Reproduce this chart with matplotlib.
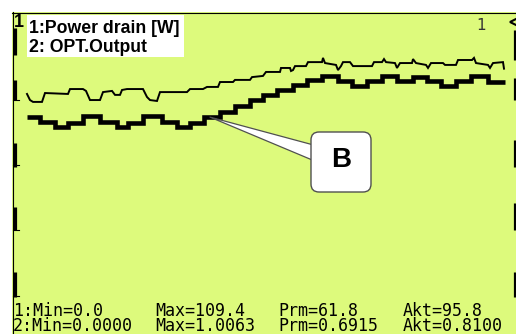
import matplotlib
matplotlib.use("Agg")
import matplotlib.pyplot as plt
from matplotlib.patches import Rectangle, FancyBboxPatch
from matplotlib.lines import Line2D

# ---- recorded traces -------------------------------------------------------
# Channel 1: power drain [W] (time in s)
power_t = [3.75, 4.5, 5.25, 7.5, 8.25, 14.0, 14.5, 17.75, 18.5, 19.5, 22.0, 22.75,
           25.0, 25.75, 27.0, 27.5, 28.75, 32.75, 33.75, 34.5, 36.25, 37.0, 43.75,
           44.5, 47.75, 48.75, 51.5, 52.0, 55.25, 55.75, 59.5, 60.0, 62.75, 63.5,
           67.0, 67.25, 69.5, 69.75, 70.25, 70.75, 73.5, 74.0, 77.5, 77.75, 78.25,
           81.0, 81.5, 82.25, 82.75, 84.5, 85.25, 90.0, 90.5, 92.5, 93.0, 93.5,
           95.75, 96.25, 97.0, 100.0, 100.25, 101.0, 103.5, 104.0, 104.75, 107.75,
           108.25, 111.0, 111.5, 115.0, 115.5, 116.0, 119.0, 119.5, 120.25, 122.75,
           123.0]
power_w = [85.0, 82.4, 81.6, 81.6, 85.4, 85.0, 87.1, 87.1, 86.3, 82.4, 82.4, 85.8,
           86.3, 84.6, 84.6, 86.7, 87.1, 87.1, 83.7, 82.4, 82.0, 85.8, 85.8,
           87.1, 87.1, 88.0, 88.0, 90.1, 90.1, 91.0, 91.0, 92.2, 92.7, 94.4,
           94.4, 96.1, 96.1, 94.8, 95.2, 96.9, 96.9, 98.6, 98.6, 100.4, 98.2,
           97.4, 95.2, 96.9, 98.6, 98.6, 96.9, 96.9, 98.6, 98.6, 99.9, 98.6,
           98.2, 96.1, 98.2, 98.2, 99.9, 98.2, 97.4, 96.1, 98.2, 98.2,
           97.4, 97.4, 99.5, 99.5, 100.4, 98.2, 97.4, 96.1, 98.2, 98.6,
           95.8]

# Channel 2: OPT output (step-held), value valid from each time onwards
opt_t = [3.75, 7.0, 10.75, 14.0, 17.75, 22.0, 26.25, 29.0, 32.75, 37.5, 41.25,
         44.5, 48.0, 52.0, 55.75, 59.5, 62.75, 66.25, 70.25, 73.75, 77.5, 81.5,
         85.0, 88.75, 92.5, 96.25, 100.25, 103.75, 107.25, 111.0, 114.75, 119.0,
         123.25]
opt_v = [0.676, 0.657, 0.638, 0.653, 0.680, 0.657, 0.638, 0.653, 0.680, 0.657,
         0.638, 0.653, 0.676, 0.696, 0.719, 0.742, 0.761, 0.780, 0.799, 0.819,
         0.834, 0.815, 0.796, 0.815, 0.834, 0.815, 0.830, 0.815, 0.796, 0.815,
         0.834, 0.810, 0.810]

# statistics shown in the status lines
stat_names = ["Min", "Max", "Prm", "Akt"]
power_stats = [0.0, 109.4, 61.8, power_w[-1]]
opt_stats = [0.0, 1.0063, 0.6915, opt_v[-1]]

legend_labels = ["1:Power drain [W]", "2: OPT.Output"]
marker_label = "B"
marker_time = 49.5

# ---- figure ----------------------------------------------------------------
W, H, DPI = 516, 334, 100
GREEN = "#DDFA7C"
fig = plt.figure(figsize=(W / DPI, H / DPI), dpi=DPI, facecolor="white")


def fx(x):
    return x / W


def fy(y):
    return (H - y) / H


# display panel (drawn underneath the data axes)
fig.patches.append(Rectangle((fx(12), 0), fx(W) - fx(12), fy(12), transform=fig.transFigure,
                             facecolor=GREEN, edgecolor="none", zorder=-2))
fig.add_artist(Line2D([fx(12), 1], [fy(12.5)] * 2, color="black", lw=0.8))
fig.add_artist(Line2D([fx(12.5)] * 2, [0, fy(12)], color="black", lw=0.8))

# scale bars on both sides
for y0, y1 in [(28, 55), (80, 100), (143, 167), (207, 230), (272, 297)]:
    fig.add_artist(Line2D([fx(14.5)] * 2, [fy(y0), fy(y1)], color="black", lw=2.3,
                          solid_capstyle="butt"))
for yt in [100, 165, 230, 296]:
    fig.add_artist(Line2D([fx(13), fx(19)], [fy(yt)] * 2, color="black", lw=0.8))
for y0, y1 in [(30, 60), (78, 100), (140, 167), (203, 230), (272, 297)]:
    fig.add_artist(Line2D([fx(514.5)] * 2, [fy(y0), fy(y1)], color="black", lw=2.3,
                          solid_capstyle="butt"))
fig.add_artist(Line2D([fx(514)], [fy(22)], marker="<", ms=6, mfc=GREEN, mec="black",
                      mew=1.5, lw=0))
fig.text(fx(14), fy(27), "1", fontsize=13, fontweight="bold", color="black",
         family="Liberation Sans", va="baseline", ha="left")
fig.text(fx(476), fy(30), "1", fontsize=11, color="#333333",
         family="DejaVu Sans", va="baseline", ha="left")

# data axes
ax_pw = fig.add_axes([fx(12), fy(293), fx(W) - fx(12), fy(12) - fy(293)])
ax_pw.set_xlim(0, 126)
ax_pw.set_ylim(0, 120)
ax_pw.axis("off")
ax_opt = ax_pw.twinx()
ax_opt.set_ylim(0, 1.08)
ax_opt.axis("off")

ax_pw.plot(power_t, power_w, color="black", lw=1.4, solid_joinstyle="miter")
ax_opt.step(opt_t, opt_v, where="post", color="black", lw=3.3,
            solid_joinstyle="miter", solid_capstyle="butt")

# legend panel
fig.patches.append(Rectangle((fx(27), fy(57)), fx(184) - fx(27), fy(15) - fy(57),
                             transform=fig.transFigure, facecolor="white",
                             edgecolor="none", zorder=1))
for lab, yb in zip(legend_labels, [33, 52]):
    fig.text(fx(29), fy(yb), lab, fontsize=12.7, fontweight="bold", color="black",
             family="Liberation Sans", va="baseline", ha="left", zorder=2)

# callout marker
idx = max(i for i, t in enumerate(opt_t) if t <= marker_time)
box_cx, box_cy = 341, H - 162
ax_opt.annotate("", xy=(marker_time, opt_v[idx]), xycoords="data",
                xytext=(box_cx, box_cy), textcoords="figure pixels",
                arrowprops=dict(arrowstyle="wedge,tail_width=0.67,shrink_factor=0.5",
                                mutation_scale=20, fc="white", ec="#505050", lw=0.9,
                                shrinkA=0, shrinkB=0), zorder=5)
box = FancyBboxPatch((311, H - 192), 60, 60, boxstyle="round,pad=0,rounding_size=8",
                     transform=None, facecolor="white", edgecolor="#505050", lw=1.0,
                     zorder=6)
fig.patches.append(box)
fig.text(fx(341), fy(160), marker_label, fontsize=20, fontweight="bold",
         family="Liberation Sans", ha="center", va="center", zorder=7)

# status lines
cols = [13, 155, 278, 403]
for ch, stats, fmt, yb in [(1, power_stats, "{:.1f}", 316), (2, opt_stats, "{:.4f}", 331)]:
    for i, (name, val, xc) in enumerate(zip(stat_names, stats, cols)):
        txt = f"{name}={fmt.format(val)}"
        if i == 0:
            txt = f"{ch}:" + txt
        fig.text(fx(xc), fy(yb), txt, fontsize=12, color="black",
                 family="DejaVu Sans Mono", va="baseline", ha="left")

fig.savefig("out.png", dpi=DPI, facecolor="white")
